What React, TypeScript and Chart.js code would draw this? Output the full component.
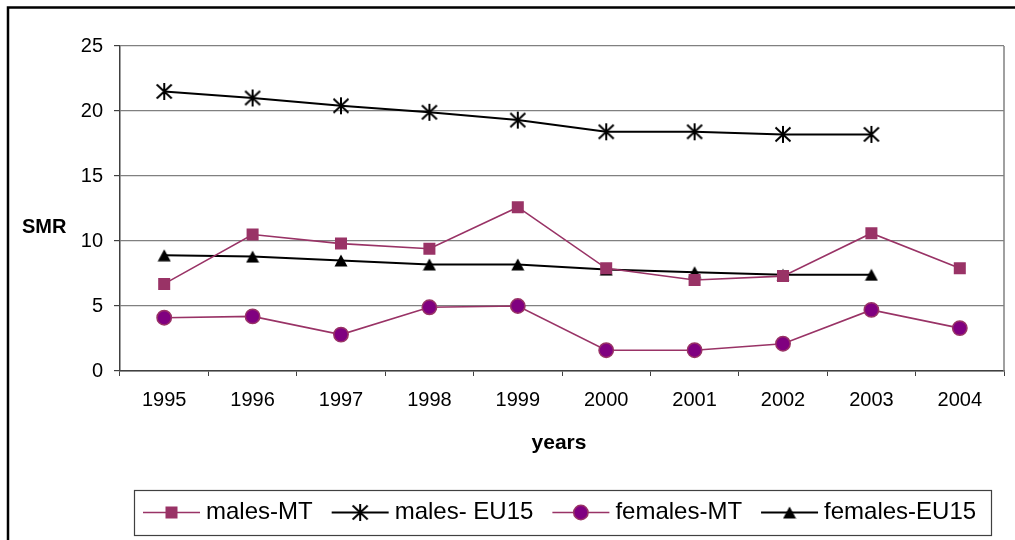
import React, { useEffect, useRef } from 'react';
import { Chart, registerables } from 'chart.js';

Chart.register(...registerables);

const years = ['1995', '1996', '1997', '1998', '1999', '2000', '2001', '2002', '2003', '2004'];
const malesMT = [6.7, 10.5, 9.8, 9.4, 12.6, 7.9, 7.0, 7.3, 10.6, 7.9];
const malesEU15 = [21.5, 21.0, 20.4, 19.9, 19.3, 18.4, 18.4, 18.2, 18.2, null];
const femalesMT = [4.1, 4.2, 2.8, 4.9, 5.0, 1.6, 1.6, 2.1, 4.7, 3.3];
const femalesEU15 = [8.9, 8.8, 8.5, 8.2, 8.2, 7.8, 7.6, 7.4, 7.4, null];
const seriesNames = ['males-MT', 'males- EU15', 'females-MT', 'females-EU15'];
const yMin = 0;
const yMax = 25;
const yStep = 5;
const yTitle = 'SMR';
const xTitle = 'years';

const FONT = '"Liberation Sans", Arial, sans-serif';
const PLUM = '#993366';
const PURPLE = '#800080';

function makeStar(w: number, h: number, color: string, lw: number) {
  const c = document.createElement('canvas');
  c.width = w;
  c.height = h;
  const ctx = c.getContext('2d')!;
  ctx.strokeStyle = color;
  ctx.lineWidth = lw;
  const m = 1;
  ctx.beginPath();
  ctx.moveTo(w / 2, m);
  ctx.lineTo(w / 2, h - m);
  ctx.moveTo(m + 0.5, m + 1.5);
  ctx.lineTo(w - m - 0.5, h - m - 1.5);
  ctx.moveTo(w - m - 0.5, m + 1.5);
  ctx.lineTo(m + 0.5, h - m - 1.5);
  ctx.stroke();
  return c;
}

function makeTriangle(w: number, h: number, color: string) {
  const c = document.createElement('canvas');
  c.width = w;
  c.height = h;
  const ctx = c.getContext('2d')!;
  ctx.fillStyle = color;
  ctx.beginPath();
  ctx.moveTo(w / 2, 0.5);
  ctx.lineTo(w - 0.5, h - 0.5);
  ctx.lineTo(0.5, h - 0.5);
  ctx.closePath();
  ctx.fill();
  return c;
}

export default function App() {
  const ref = useRef<HTMLCanvasElement | null>(null);

  useEffect(() => {
    document.body.style.margin = '0';
    const canvas = ref.current;
    if (!canvas) return;
    const star = makeStar(18, 19, '#000', 2);
    const tri = makeTriangle(14, 13, '#000');

    const decor = {
      id: 'decor',
      beforeDatasetsDraw(chart: any) {
        const { ctx, chartArea } = chart;
        ctx.save();
        ctx.strokeStyle = '#808080';
        ctx.lineWidth = 1.5;
        ctx.beginPath();
        ctx.moveTo(chartArea.right, chartArea.top);
        ctx.lineTo(chartArea.right, chartArea.bottom);
        ctx.stroke();
        ctx.restore();
      },
      afterDraw(chart: any) {
        const { ctx, chartArea } = chart;
        ctx.save();
        // outer frame
        ctx.strokeStyle = '#000';
        ctx.lineWidth = 2.5;
        ctx.strokeRect(8, 7.5, 1200, 800);
        // axis titles
        ctx.fillStyle = '#000';
        ctx.font = `bold 20px ${FONT}`;
        ctx.textBaseline = 'alphabetic';
        ctx.textAlign = 'left';
        ctx.fillText(yTitle, 22, 233);
        ctx.textAlign = 'center';
        ctx.font = `bold 21px ${FONT}`;
        ctx.fillText(xTitle, (chartArea.left + chartArea.right) / 2 - 3, 449);
        // legend
        const boxX = 134, boxY = 490, boxW = 857, boxH = 45;
        ctx.strokeStyle = '#404040';
        ctx.lineWidth = 1.2;
        ctx.strokeRect(boxX + 0.5, boxY + 0.5, boxW, boxH);
        ctx.font = `24px ${FONT}`;
        ctx.textAlign = 'left';
        let x = 143;
        const ly = 512.5;
        chart.data.datasets.forEach((ds: any) => {
          const lineLen = 57;
          ctx.strokeStyle = ds.borderColor;
          ctx.lineWidth = ds.borderWidth;
          ctx.beginPath();
          ctx.moveTo(x, ly);
          ctx.lineTo(x + lineLen, ly);
          ctx.stroke();
          const cx = x + lineLen / 2;
          const ps = ds.pointStyle;
          if (ps === 'rect') {
            ctx.fillStyle = ds.pointBackgroundColor;
            ctx.fillRect(cx - 6, ly - 6, 12, 12);
          } else if (ps === 'circle') {
            ctx.fillStyle = ds.pointBackgroundColor;
            ctx.strokeStyle = ds.pointBorderColor;
            ctx.lineWidth = ds.pointBorderWidth;
            ctx.beginPath();
            ctx.arc(cx, ly, ds.pointRadius, 0, Math.PI * 2);
            ctx.fill();
            ctx.stroke();
          } else if (ps && ps.width) {
            ctx.drawImage(ps, cx - ps.width / 2, ly - ps.height / 2);
          }
          ctx.fillStyle = '#000';
          ctx.fillText(ds.label, x + 63, 519);
          x += 63 + ctx.measureText(ds.label).width + 19;
        });
        ctx.restore();
      },
    };

    const chart = new Chart(canvas, {
      type: 'line',
      data: {
        labels: years,
        datasets: [
          {
            label: seriesNames[0],
            data: malesMT,
            borderColor: PLUM,
            borderWidth: 1.6,
            pointStyle: 'rect',
            pointRadius: 8.5,
            pointBackgroundColor: PLUM,
            pointBorderColor: PLUM,
            pointBorderWidth: 0,
          },
          {
            label: seriesNames[1],
            data: malesEU15,
            borderColor: '#000',
            borderWidth: 2,
            pointStyle: star,
            pointRadius: 9,
            pointBackgroundColor: '#000',
            pointBorderColor: '#000',
          },
          {
            label: seriesNames[2],
            data: femalesMT,
            borderColor: PLUM,
            borderWidth: 1.6,
            pointStyle: 'circle',
            pointRadius: 7.2,
            pointBackgroundColor: PURPLE,
            pointBorderColor: PLUM,
            pointBorderWidth: 1.5,
          },
          {
            label: seriesNames[3],
            data: femalesEU15,
            borderColor: '#000',
            borderWidth: 2,
            pointStyle: tri,
            pointRadius: 7,
            pointBackgroundColor: '#000',
            pointBorderColor: '#000',
          },
        ],
      } as any,
      options: {
        responsive: false,
        animation: false,
        devicePixelRatio: 1,
        events: [],
        layout: { padding: { left: 0, top: 46, right: 9, bottom: 0 } },
        plugins: {
          legend: { display: false },
          title: { display: false },
          tooltip: { enabled: false },
        },
        elements: { line: { tension: 0 } },
        scales: {
          x: {
            type: 'category',
            offset: true,
            grid: {
              display: true,
              drawOnChartArea: false,
              drawTicks: true,
              tickLength: 5,
              color: '#404040',
              offset: true,
            },
            border: { display: true, color: '#404040', width: 1.5 },
            ticks: {
              autoSkip: false,
              maxRotation: 0,
              minRotation: 0,
              padding: 12,
              color: '#000',
              font: { family: FONT, size: 20 },
            },
            afterFit(scale: any) {
              scale.height = 169;
            },
          },
          y: {
            min: yMin,
            max: yMax,
            ticks: {
              stepSize: yStep,
              padding: 11,
              color: '#000',
              font: { family: FONT, size: 20 },
            },
            grid: {
              color: '#808080',
              lineWidth: 1.2,
              tickLength: 6,
              tickColor: '#404040',
            },
            border: { display: true, color: '#404040', width: 1.5 },
            afterFit(scale: any) {
              scale.width = 120;
            },
          },
        },
      } as any,
      plugins: [decor],
    });
    return () => chart.destroy();
  }, []);

  return (
    <div style={{ width: 1015, height: 540, background: '#fff' }}>
      <canvas ref={ref} width={1015} height={540} style={{ display: 'block' }} />
    </div>
  );
}
